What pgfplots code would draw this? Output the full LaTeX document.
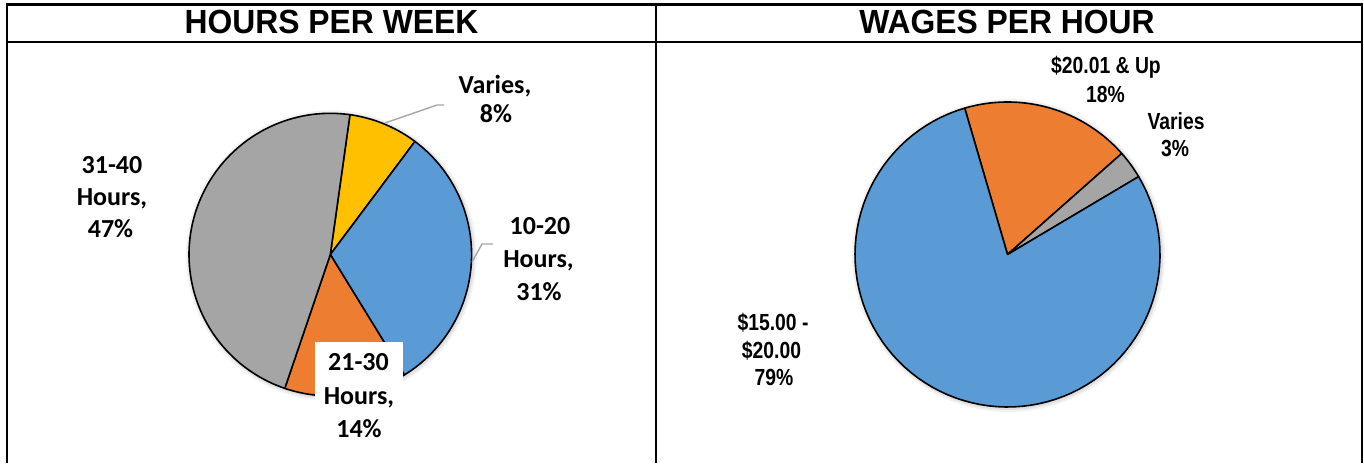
\documentclass[border=0pt]{standalone}
\usepackage{pgfplots}
\pgfplotsset{compat=1.18}
\usepackage{fontspec}
\setmainfont{Liberation Sans}
\newfontfamily\hdrfont{Liberation Sans Bold}[FakeStretch=0.95]
\newfontfamily\rfont{Liberation Sans Bold}[FakeStretch=0.83]
\newfontfamily\lfont{Carlito Bold}
\definecolor{pblue}{HTML}{5B9BD5}
\definecolor{porange}{HTML}{ED7D31}
\definecolor{pgray}{HTML}{A5A5A5}
\definecolor{pyellow}{HTML}{FFC000}
\definecolor{leader}{HTML}{A6A6A6}

% pie slice: #1 cx, #2 cy, #3 r, #4 percent, #5 colour  (angles clockwise from 12 o'clock)
\gdef\pieacc{0}
\newcommand\piestart[1]{\xdef\pieacc{#1}}
\newcommand\pieslice[5]{%
  \pgfmathsetmacro\pa{\pieacc}%
  \pgfmathsetmacro\pb{\pieacc+3.6*#4}%
  \addplot[draw=black, line width=1.6pt, line join=round, fill=#5,
           domain=\pa:\pb, samples=90, variable=\t]
     ({#1+#3*sin(\t)}, {#2-#3*cos(\t)}) -- (axis cs:#1,#2) -- cycle;
  \xdef\pieacc{\pb}}
\newcommand\pieshadow[3]{%
  \addplot[draw=none, fill=black, opacity=0.05, domain=0:360, samples=120, variable=\t]
     ({#1+1+(#3+4)*sin(\t)}, {#2+1-(#3+4)*cos(\t)});
  \addplot[draw=none, fill=black, opacity=0.07, domain=0:360, samples=120, variable=\t]
     ({#1+1+(#3+2)*sin(\t)}, {#2+1-(#3+2)*cos(\t)});}

\newcommand\LL[3]{\node[anchor=base, inner sep=0pt, font=\lfont\fontsize{26}{33}\selectfont] at (axis cs:#1,#2) {#3};}
\newcommand\RL[3]{\node[anchor=base, inner sep=0pt, font=\rfont\fontsize{23.3}{27.5}\selectfont] at (axis cs:#1,#2) {#3};}

\begin{document}
\begin{tikzpicture}
\begin{axis}[
  at={(0,0)}, anchor=south west,
  width=1364pt, height=463pt, scale only axis,
  xmin=0, xmax=1364, ymin=0, ymax=463, y dir=reverse,
  hide axis, clip=false]

% ---- left pie: HOURS PER WEEK ----
\pieshadow{330.3}{254.6}{141.3}
\piestart{8}
\pieslice{330.3}{254.6}{141.3}{8}{pyellow}   % Varies
\pieslice{330.3}{254.6}{141.3}{31}{pblue}    % 10-20 Hours
\pieslice{330.3}{254.6}{141.3}{14}{porange}  % 21-30 Hours
\pieslice{330.3}{254.6}{141.3}{47}{pgray}    % 31-40 Hours

% ---- right pie: WAGES PER HOUR ----
\pieshadow{1007.5}{254.5}{152.5}
\piestart{-16.3}
\pieslice{1007.5}{254.5}{152.5}{18}{porange} % $20.01 & Up
\pieslice{1007.5}{254.5}{152.5}{3}{pgray}    % Varies
\pieslice{1007.5}{254.5}{152.5}{79}{pblue}   % $15.00 - $20.00

% frames
\draw[line width=2.5pt] (axis cs:7,463) -- (axis cs:7,4.5) -- (axis cs:1362,4.5) -- (axis cs:1362,463);
\draw[line width=2.5pt] (axis cs:7,42) -- (axis cs:1362,42);
\draw[line width=2.2pt] (axis cs:656,4.5) -- (axis cs:656,463);

% headers
\node[anchor=base, inner sep=0pt, font=\hdrfont\fontsize{33.5}{36}\selectfont] at (axis cs:331.5,33) {HOURS PER WEEK};
\node[anchor=base, inner sep=0pt, font=\hdrfont\fontsize{33.5}{36}\selectfont] at (axis cs:1007,33) {WAGES PER HOUR};

% leader lines
\draw[leader, line width=1.4pt] (axis cs:385,123) -- (axis cs:437,105) -- (axis cs:444,105);
\draw[leader, line width=1.4pt] (axis cs:472,262) -- (axis cs:482,244) -- (axis cs:493,244);

% left labels
\LL{495}{93}{Varies,}
\LL{496}{122}{8\%}
\LL{112}{173}{31-40}
\LL{112}{205}{Hours,}
\LL{110.5}{237}{47\%}
\LL{540}{234}{10-20}
\LL{538.5}{267}{Hours,}
\LL{539}{300}{31\%}
\fill[white] (axis cs:315,342) rectangle (axis cs:403,448);
\LL{358.5}{370}{21-30}
\LL{359}{404}{Hours,}
\LL{359}{437}{14\%}

% right labels
\RL{1106}{73.5}{\$20.01 \& Up}
\RL{1105.5}{102.5}{18\%}
\RL{1176}{129.5}{Varies}
\RL{1175}{156.5}{3\%}
\RL{773}{330}{\$15.00 -}
\RL{771.5}{358.3}{\$20.00}
\RL{774}{385}{79\%}
\end{axis}
\pgfresetboundingbox
\path (current axis.south west) rectangle (current axis.north east);
\end{tikzpicture}
\end{document}
